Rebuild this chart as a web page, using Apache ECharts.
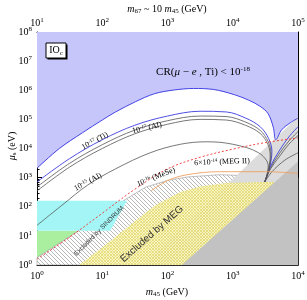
<!DOCTYPE html>
<html><head><meta charset="utf-8">
<script src="https://cdn.jsdelivr.net/npm/echarts@6/dist/echarts.min.js"></script>
<style>html,body{margin:0;padding:0;background:#fff}#c{width:307px;height:300px}</style>
</head><body><div id="c"></div><script>
// ---------- tick values ----------
const xMajor = [1, 10, 100, 1000, 10000];
const topMajor = [10, 100, 1000, 10000, 100000];
const yMajor = [1, 1e1, 1e2, 1e3, 1e4, 1e5, 1e6, 1e7, 1e8];

// ---------- data: [m45 (GeV), mu_s (eV)] ----------
const blueBoundary = [[1,2.1e3],[2.2,1.0e4],[5.0,3.5e4],[10,9.5e4],[16,1.8e5],[32,4.0e5],[63,7.6e5],[126,1.02e6],[250,1.15e6],[500,1.07e6],[1070,7.0e5],[1780,4.5e5],[2630,2.8e5],[3470,1.6e5],[4170,5.5e4],[4570,2.0e4],[5620,4.4e4],[7590,7.6e4],[10000,1.1e5]];
const tiLine = [[1,7.1e2],[3.16,4.5e3],[10,2.0e4],[31.6,6.3e4],[100,1.3e5],[316,1.9e5],[794,1.8e5],[1585,1.1e5],[2630,5.6e4],[3550,2.2e4],[3980,7.9e3],[3630,2.0e3],[3090,7.1e2],[3800,2.5e3],[5250,8.9e3],[7240,2.5e4],[10000,5.6e4]];
const alLineA = [[1,4.8e2],[3.16,3.1e3],[10,1.35e4],[31.6,4.3e4],[100,9.0e4],[316,1.3e5],[794,1.25e5],[1585,8.0e4],[2630,4.2e4],[3500,1.7e4],[3850,6.5e3],[3550,1.8e3],[3090,7.1e2],[3800,2.2e3],[5250,7.0e3],[7240,1.8e4],[10000,3.8e4]];
const alLineB = [[1,3.5e2],[3.16,2.3e3],[10,1.0e4],[31.6,3.2e4],[100,6.8e4],[316,1.0e5],[794,9.5e4],[1585,6.2e4],[2630,3.3e4],[3450,1.4e4],[3750,5.5e3],[3450,1.6e3],[3090,7.1e2],[3800,2.0e3],[5250,5.5e3],[7240,1.4e4],[10000,2.8e4]];
const al15Line = [[1,23],[2.5,1.2e2],[6,5.6e2],[16,2.0e3],[54,7.1e3],[158,1.4e4],[400,1.7e4],[1000,1.4e4],[2500,7.1e3],[3500,2.5e3],[3300,1.1e3],[3090,7.1e2],[4000,1.6e3],[6300,4.0e3],[10000,7.1e3]];
const meseLine = [[1,1.6],[3.16,9],[10,60],[31.6,4.0e2],[100,2.0e3],[316,5.0e3],[1000,9.5e3],[3160,1.6e4],[10000,2.3e4]];
const megIILine = [[56,3.5e2],[100,7.9e2],[200,1.26e3],[630,1.6e3],[3160,1.6e3],[10000,1.4e3]];
const sindrumEdge = [[1,1.8],[3.16,9.5],[10,52],[21,1.6e2],[47,4.8e2],[100,8.0e2],[200,1.05e3],[630,1.26e3],[3160,1.1e3],[10000,1.0e3]];
const megEdge = [[4.4,1],[10,4],[31.6,32],[66,1.15e2],[158,3.2e2],[316,5.0e2],[800,6.6e2],[3160,7.1e2],[10000,7.1e2]];
const lightGrayEdge = [[41.7,1],[10000,1.23e5]];
const darkGrayEdge = [[166,1],[10000,3.6e3]];
const cyanBand = [[1,15],[13.2,15],[24,160],[1,160]];
const greenBand = [[1,1],[10,1],[10,15],[1,15]];

// ---------- helpers ----------
function minors(major){const out=[];for(let i=0;i<major.length-1;i++)for(let k=2;k<=9;k++)out.push(major[i]*k);return out;}
const SERIF='Liberation Serif';
function rich(color,size){return{
  b:{fontFamily:SERIF,fontSize:size,color:color},
  i:{fontFamily:SERIF,fontSize:size,color:color,fontStyle:'italic'},
  s:{fontFamily:SERIF,fontSize:Math.round(size*0.68),color:color,padding:[0,0,Math.round(size*0.5),0]},
  d:{fontFamily:SERIF,fontSize:Math.round(size*0.68),color:color,padding:[Math.round(size*0.45),0,0,0]}
};}
const pow10=v=>'{b|10}{s|'+Math.round(Math.log10(v))+'}';

function pattern(size,bg,color,cross,lw){
  const c=document.createElement('canvas');c.width=c.height=size;
  const g=c.getContext('2d');
  if(bg){g.fillStyle=bg;g.fillRect(0,0,size,size);}
  g.strokeStyle=color;g.lineWidth=lw;
  g.beginPath();
  g.moveTo(-1,-1);g.lineTo(size+1,size+1);
  g.moveTo(-1,size-1);g.lineTo(1,size+1);
  g.moveTo(size-1,-1);g.lineTo(size+1,1);
  if(cross){g.moveTo(-1,size+1);g.lineTo(size+1,-1);g.moveTo(-1,1);g.lineTo(1,-1);g.moveTo(size-1,size+1);g.lineTo(size+1,size-1);}
  g.stroke();
  return c;
}
const hatchSindrum=pattern(4,'#ffffff','#9a9a9a',false,0.7);
const hatchMeg=pattern(3,'rgba(250,246,190,1)','#e4d860',true,0.8);

function poly(pts,style,z){
  return {type:'custom',silent:true,z:z,xAxisIndex:0,yAxisIndex:0,data:[[1,1]],
    renderItem:(p,api)=>({type:'polygon',shape:{points:pts.map(q=>api.coord(q))},style:style})};
}
function line(pts,color,w,type,z){
  return {type:'line',data:pts,xAxisIndex:0,yAxisIndex:0,showSymbol:false,symbol:'none',smooth:0.35,silent:true,z:z||10,
    lineStyle:{color:color,width:w,type:type||'solid'}};
}

const blueRegion=blueBoundary.concat([[10000,1e8],[1,1e8]]);
const megRegion=megEdge.concat([[10000,1]]);
const sindrumRegion=sindrumEdge.concat([[10000,1],[1,1]]);
const lightGrayRegion=lightGrayEdge.concat([[10000,1]]);
const darkGrayRegion=darkGrayEdge.concat([[10000,1]]);

function axisBase(extra){return Object.assign({type:'log',splitLine:{show:false},axisLine:{show:true,onZero:false,lineStyle:{color:'#000',width:1}}},extra);}
const labRich=rich('#000',10);
const xAxes=[
  axisBase({min:1,max:1e4,position:'bottom',axisTick:{inside:true,length:5,customValues:xMajor,lineStyle:{color:'#000'}},axisLabel:{customValues:xMajor,formatter:pow10,rich:labRich,margin:5}}),
  axisBase({min:1,max:1e4,position:'bottom',axisLine:{show:false},axisTick:{inside:true,length:2.5,customValues:minors(xMajor),lineStyle:{color:'#000'}},axisLabel:{show:false}}),
  axisBase({min:10,max:1e5,position:'top',axisTick:{inside:true,length:5,customValues:topMajor,lineStyle:{color:'#000'}},axisLabel:{customValues:topMajor,formatter:pow10,rich:labRich,margin:3}}),
  axisBase({min:10,max:1e5,position:'top',axisLine:{show:false},axisTick:{inside:true,length:2.5,customValues:minors(topMajor),lineStyle:{color:'#000'}},axisLabel:{show:false}})
];
const yAxes=[
  axisBase({min:1,max:1e8,position:'left',axisTick:{inside:true,length:5,customValues:yMajor,lineStyle:{color:'#000'}},axisLabel:{customValues:yMajor,formatter:pow10,rich:labRich,margin:5}}),
  axisBase({min:1,max:1e8,position:'left',axisLine:{show:false},axisTick:{inside:true,length:2.5,customValues:minors(yMajor),lineStyle:{color:'#000'}},axisLabel:{show:false}}),
  axisBase({min:1,max:1e8,position:'right',axisTick:{inside:true,length:5,customValues:yMajor,lineStyle:{color:'#000'}},axisLabel:{show:false}}),
  axisBase({min:1,max:1e8,position:'right',axisLine:{show:false},axisTick:{inside:true,length:2.5,customValues:minors(yMajor),lineStyle:{color:'#000'}},axisLabel:{show:false}})
];

function txt(x,y,text,r,rot,extra){
  return Object.assign({type:'text',x:x,y:y,rotation:rot||0,z:100,silent:true,
    style:{text:text,rich:r,align:'center',verticalAlign:'middle'}},extra||{});
}
const blueR=rich('#2a2ad8',8), grayR=rich('#333',8), redR=rich('#ee3030',8), orR=rich('#e88a40',8);
const graphic=[
  txt(167,9,'{i|m}{d|67}{b| ~ 10 }{i|m}{d|45}{b| (GeV)}',rich('#000',10)),
  txt(167,292,'{i|m}{d|45}{b| (GeV)}',rich('#000',10)),
  txt(12,146,'{i|μ}{d|s}{b| (eV)}',rich('#000',10),Math.PI/2),
  {type:'rect',x:47.5,y:44.5,shape:{width:20,height:15},style:{fill:'#000'},z:99,silent:true},
  {type:'rect',x:46,y:43,shape:{width:20,height:15},style:{fill:'#fff',stroke:'#000',lineWidth:1},z:100,silent:true},
  txt(56,50.5,'{b|IO}{d|c}',rich('#000',10)),
  txt(203,72,'{b|CR(}{i|μ}{b| − }{i|e}{b| , Ti) < 10}{s|-18}',rich('#2626d4',11)),
  txt(95,141,'{b|10}{s|-17}{b| (Ti)}',blueR,0.5),
  txt(147,128,'{b|10}{s|-17}{b| (Al)}',grayR,0.22),
  txt(88,182,'{b|10}{s|-15}{b| (Al)}',grayR,0.5),
  txt(156,177,'{b|10}{s|-16}{b| (MeSe)}',redR,0.38),
  txt(222,162,'{b|6×10}{s|-14}{b| (MEG II)}',orR,0.04),
  txt(99,231,'Excluded by SINDRUM',null,0.785,{style:{text:'Excluded by SINDRUM',fontFamily:'Liberation Sans',fontSize:6.5,fill:'#333',align:'center',verticalAlign:'middle'}}),
  txt(152,234,'Excluded by MEG',null,0.72,{style:{text:'Excluded by MEG',fontFamily:'Liberation Sans',fontSize:10,fill:'#333',align:'center',verticalAlign:'middle'}})
];

const series=[
  poly(greenBand,{fill:'#aaeea0'},1),
  poly(blueRegion,{fill:'#c6c6fa'},2),
  poly(sindrumRegion,{fill:{image:hatchSindrum,repeat:'repeat'},stroke:'#999',lineWidth:0.6},3),
  poly(cyanBand,{fill:'#a4f6f6'},3.5),
  poly(lightGrayRegion,{fill:'#dcdcdc'},4),
  poly(megRegion,{fill:{image:hatchMeg,repeat:'repeat'},opacity:0.85},5),
  poly(darkGrayRegion,{fill:'#c2c2c2'},6),
  line(blueBoundary,'#4646e6',1),
  line(tiLine,'#3c3ce0',0.9),
  line(alLineA,'#555',0.8),
  line(alLineB,'#555',0.8),
  line(al15Line,'#555',0.8),
  line(meseLine,'#f03030',0.9,[2,2]),
  line(megIILine,'#f0a060',0.9)
];

const chart=echarts.init(document.getElementById('c'),null,{renderer:'canvas'});
chart.setOption({animation:false,backgroundColor:'#fff',
  grid:{left:37,right:9,top:32,bottom:35,outerBoundsMode:'none'},
  xAxis:xAxes,yAxis:yAxes,series:series,graphic:graphic});
</script></body></html>
